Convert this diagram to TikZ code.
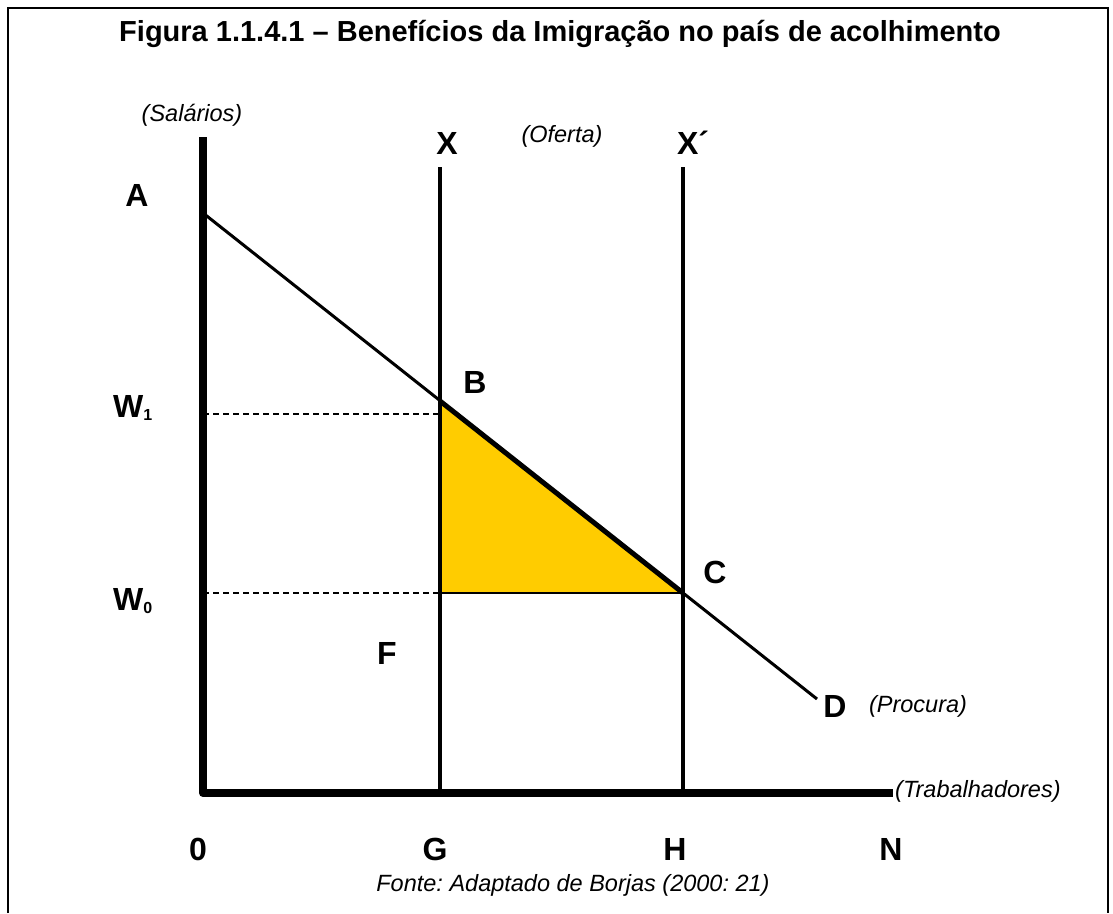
\documentclass[tikz,border=0pt]{standalone}
\usepackage{fontspec}
\setmainfont{Liberation Sans}
\definecolor{areagold}{HTML}{FFCC00}
\frenchspacing

\begin{document}
\begin{tikzpicture}[x=1pt, y=-1pt,
    lbl/.style={font=\fontsize{32}{36}\selectfont\bfseries, inner sep=0pt},
    note/.style={font=\fontsize{23.5}{26}\selectfont\itshape, inner sep=0pt},
    guide/.style={line width=1.5pt, dash pattern=on 6pt off 4pt}]
    \useasboundingbox (0,0) rectangle (1113,913);

    % moldura
    \draw[line width=2pt] (8,913) -- (8,8) -- (1108,8) -- (1108,913);
    \node[font=\fontsize{29}{32}\selectfont\bfseries, inner sep=0pt] (titulo) at (560,34)
        {Figura 1.1.4.1 – Benefícios da Imigração no país de acolhimento};

    % pontos
    \coordinate (O) at (203,793);
    \coordinate (ytop) at (203,137);
    \coordinate (xend) at (893,793);
    \coordinate (Xtop) at (440,167);
    \coordinate (Xbot) at (440,793);
    \coordinate (Htop) at (683,167);
    \coordinate (Hbot) at (683,793);
    \coordinate (pA) at (203,213);
    \coordinate (pB) at (440,401);
    \coordinate (pC) at (683,593);
    \coordinate (pD) at (817,699);
    \coordinate (w1) at (203,414);
    \coordinate (w1e) at (440,414);
    \coordinate (w0) at (203,593);
    \coordinate (w0e) at (440,593);

    % area do ganho
    \fill[areagold] (pB) -- (pC) -- (w0e) -- cycle;
    \draw[line width=1.5pt] (pB) -- (w0e) -- (pC);

    % linhas tracejadas
    \draw[guide] (w1) -- (w1e);
    \draw[guide] (w0) -- (w0e);

    % oferta
    \draw[line width=3.5pt] (Xtop) -- (Xbot);
    \draw[line width=3.5pt] (Htop) -- (Hbot);

    % procura
    \draw[line width=3pt] (pA) -- (pD);
    \draw[line width=5pt] (pB) -- (pC);

    % eixos
    \draw[line width=8pt, line join=round] (ytop) -- (O) -- (xend);

    % rotulos
    \node[note] (salarios) at (192,115) {(Salários)};
    \node[note] (oferta) at (562,136) {(Oferta)};
    \node[note] (procura) at (918,706) {(Procura)};
    \node[note, anchor=west] (trab) at (895,791) {(Trabalhadores)};
    \node[lbl] (labX) at (447,143) {X};
    \node[lbl] (labXp) at (693,143) {X´};
    \node[lbl] (labA) at (137,195) {A};
    \node[lbl] (labB) at (475,382) {B};
    \node[lbl] (labC) at (715,572) {C};
    \node[lbl] (labD) at (835,706) {D};
    \node[lbl] (labF) at (387,653) {F};
    \node[lbl, anchor=west] (labW1) at (113,408) {W\raisebox{-3pt}{\fontsize{16}{18}\selectfont 1}};
    \node[lbl, anchor=west] (labW0) at (113,601) {W\raisebox{-3pt}{\fontsize{16}{18}\selectfont 0}};
    \node[lbl] (lab0) at (198,849) {0};
    \node[lbl] (labG) at (435,849) {G};
    \node[lbl] (labH) at (675,849) {H};
    \node[lbl] (labN) at (891,849) {N};
    \node[note] (fonte) at (573,885) {Fonte: Adaptado de Borjas (2000: 21)};
\end{tikzpicture}
\end{document}
